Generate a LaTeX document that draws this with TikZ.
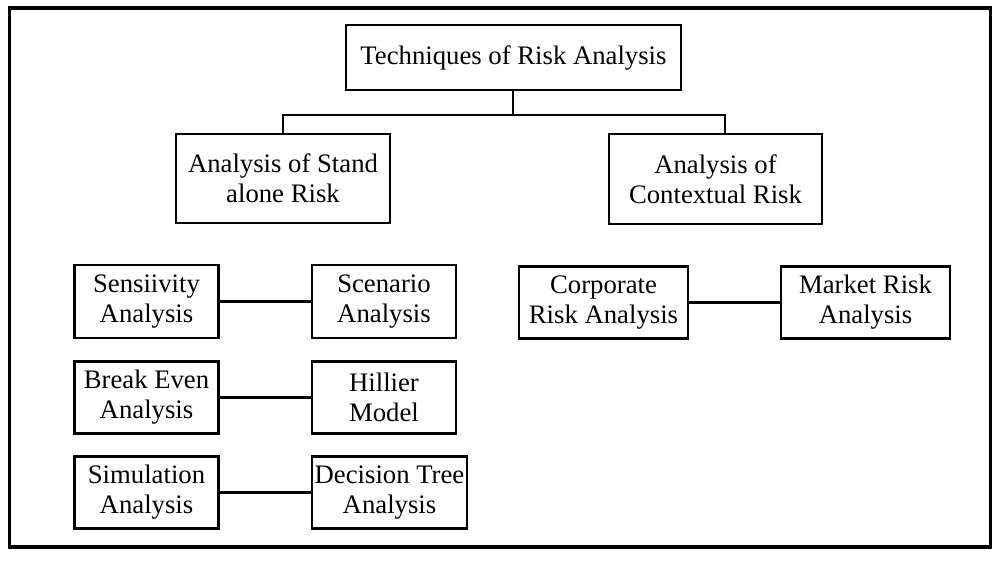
\documentclass[tikz,border=0pt]{standalone}
\usepackage{fontspec}
\setmainfont{Liberation Serif}
\usetikzlibrary{positioning,calc}

\begin{document}
\begin{tikzpicture}[x=0.025cm,y=-0.025cm,
    box/.style={draw,line width=2pt,align=center,inner sep=0pt,
        font=\fontsize{19}{21.3}\selectfont},
    small/.style={box,minimum width=3.6cm,minimum height=1.78cm},
    link/.style={line width=1.7pt},
    every edge/.append style={link}]
    \useasboundingbox (0,0) rectangle (992,581);
    % outer frame
    \draw[line width=2.3pt] (9.5,8) rectangle (991,547);

    \node[box,minimum width=8.375cm,minimum height=1.625cm] at (513.5,57.5) (techniques) {Techniques of Risk Analysis};
    \node[box,minimum width=5.35cm,minimum height=2.225cm] at (283,178.5) (standalone) {Analysis of Stand\\alone Risk};
    \node[box,minimum width=5.325cm,minimum height=2.25cm] at (715.5,179) (contextual) {Analysis of\\Contextual Risk};

    \node[small,minimum height=1.825cm] at (146.5,301.5) (sensitivity) {Sensiivity\\Analysis};
    \node[small,minimum height=1.825cm] at (384,301.5) (scenario) {Scenario\\Analysis};
    \node[small] at (146.5,397.5) (breakeven) {Break Even\\Analysis};
    \node[small] at (384,397.5) (hillier) {Hillier\\Model};
    \node[small] at (146.5,492.5) (simulation) {Simulation\\Analysis};
    \node[small,minimum width=3.875cm] at (389.5,492.5) (decisiontree) {Decision Tree\\Analysis};

    \node[small,minimum width=4.225cm] at (603.5,302.5) (corporate) {Corporate\\Risk Analysis};
    \node[small,minimum width=4.225cm] at (865.5,302.5) (market) {Market Risk\\Analysis};

    \coordinate (split) at (513,115);
    \draw[link] (techniques.south -| split) -- (split);
    \draw[link] (standalone.north) |- (split) -| ($(contextual.north)+(9.5,0)$);
    \path
    (sensitivity) edge (scenario)
    (breakeven) edge (hillier)
    (simulation) edge (decisiontree)
    (corporate) edge (market)
    ;
\end{tikzpicture}
\end{document}
